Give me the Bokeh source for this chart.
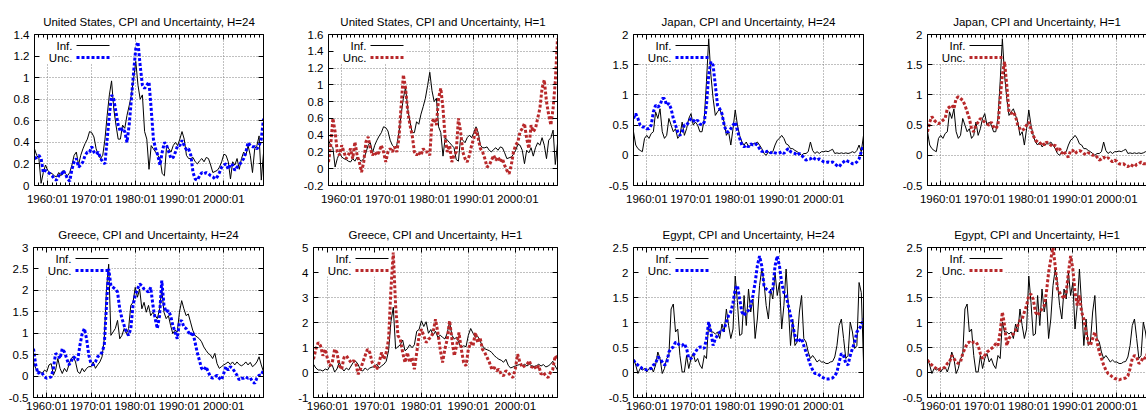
from bokeh.plotting import figure
from bokeh.layouts import column, row, Spacer
from bokeh.models import (Range1d, FixedTicker, LinearAxis, Grid, Label,
                          BoxAnnotation, PrintfTickFormatter)
from bokeh.embed import file_html
from bokeh.resources import INLINE

# ---------------- data (semi-annual readings, 1957:01 ... 2009:01) ----------------
dates = [1957.0 + 0.5 * i for i in range(105)]

x_major = [1960, 1970, 1980, 1990, 2000]
x_labels = ["1960:01", "1970:01", "1980:01", "1990:01", "2000:01"]
x_minor = list(range(1957, 2010))

us_inf = [0.34, 0.28, 0.25, 0.02, 0.12, 0.19, 0.14, 0.12, 0.11, 0.09,
          0.08, 0.12, 0.09, 0.14, 0.11, 0.09, 0.12, 0.19, 0.28, 0.31,
          0.19, 0.28, 0.34, 0.39, 0.43, 0.50, 0.49, 0.45, 0.34, 0.28,
          0.25, 0.28, 0.43, 0.65, 0.84, 0.97, 0.71, 0.56, 0.43, 0.43,
          0.56, 0.53, 0.65, 0.74, 0.84, 0.99, 1.15, 0.93, 0.80, 0.84,
          0.50, 0.43, 0.15, 0.37, 0.34, 0.31, 0.28, 0.25, 0.11, 0.09,
          0.37, 0.34, 0.31, 0.37, 0.40, 0.37, 0.43, 0.50, 0.43, 0.28,
          0.25, 0.25, 0.26, 0.22, 0.20, 0.23, 0.25, 0.22, 0.26, 0.25,
          0.19, 0.12, 0.13, 0.14, 0.17, 0.22, 0.29, 0.28, 0.22, 0.06,
          0.22, 0.19, 0.25, 0.15, 0.25, 0.31, 0.28, 0.37, 0.28, 0.12,
          0.34, 0.37, 0.46, 0.05, 0.30]

us_unc24 = [0.25, 0.26, 0.28, 0.25, 0.12, 0.14, 0.12, 0.11, 0.09, 0.06,
            0.05, 0.09, 0.09, 0.14, 0.11, 0.06, 0.04, 0.15, 0.22, 0.25,
            0.17, 0.19, 0.22, 0.28, 0.31, 0.31, 0.36, 0.31, 0.29, 0.31,
            0.25, 0.22, 0.20, 0.43, 0.65, 0.84, 0.80, 0.68, 0.56, 0.50,
            0.53, 0.50, 0.40, 0.56, 0.80, 1.05, 1.27, 1.33, 1.11, 0.93,
            0.90, 0.93, 0.96, 0.71, 0.43, 0.34, 0.28, 0.19, 0.31, 0.40,
            0.37, 0.31, 0.25, 0.26, 0.31, 0.37, 0.37, 0.42, 0.37, 0.33,
            0.34, 0.28, 0.12, 0.06, 0.05, 0.09, 0.12, 0.11, 0.12, 0.11,
            0.09, 0.08, 0.06, 0.08, 0.12, 0.17, 0.19, 0.20, 0.15, 0.20,
            0.19, 0.14, 0.17, 0.19, 0.22, 0.25, 0.31, 0.40, 0.37, 0.36,
            0.36, 0.34, 0.37, 0.43, 0.62]

us_unc1 = [0.08, 0.28, 0.60, 0.44, 0.20, 0.16, 0.28, 0.20, 0.12, 0.16,
           0.24, 0.12, 0.32, 0.16, 0.08, -0.04, 0.08, 0.32, 0.38, 0.24,
           0.16, 0.20, 0.16, 0.20, 0.28, 0.20, 0.08, 0.20, 0.24, 0.20,
           0.26, 0.20, 0.36, 0.76, 1.12, 0.96, 0.68, 0.52, 0.40, 0.20,
           0.16, 0.20, 0.16, 0.24, 0.20, 0.20, 0.16, 0.56, 0.60, 0.52,
           0.84, 0.96, 0.72, 0.36, 0.20, 0.28, 0.08, 0.16, 0.20, 0.60,
           0.44, 0.20, 0.12, 0.08, 0.16, 0.28, 0.36, 0.48, 0.36, 0.24,
           0.20, 0.12, 0.02, 0.04, 0.10, 0.16, 0.10, 0.14, 0.08, 0.12,
           0.04, -0.02, -0.06, 0.04, 0.20, 0.28, 0.32, 0.44, 0.48, 0.54,
           0.36, 0.24, 0.52, 0.44, 0.48, 0.60, 0.72, 0.96, 1.06, 0.80,
           0.64, 0.52, 0.72, 1.04, 1.55]

jp_inf = [0.39, 0.17, 0.11, 0.08, 0.06, 0.28, 0.33, 0.28, 0.36, 0.39,
          0.72, 0.61, 0.77, 0.39, 0.28, 0.33, 0.61, 0.50, 0.39, 0.44,
          0.28, 0.33, 0.55, 0.33, 0.44, 0.61, 0.69, 0.50, 0.55, 0.50,
          0.39, 0.39, 0.61, 1.22, 1.93, 1.33, 0.94, 0.66, 0.72, 0.77,
          0.66, 0.55, 0.33, 0.39, 0.17, 0.44, 0.75, 0.50, 0.33, 0.22,
          0.17, 0.22, 0.14, 0.17, 0.19, 0.19, 0.22, 0.17, 0.11, 0.03,
          0.00, 0.06, 0.03, 0.06, 0.17, 0.25, 0.28, 0.33, 0.28, 0.19,
          0.17, 0.11, 0.11, 0.08, 0.06, 0.03, 0.00, 0.03, 0.03, 0.06,
          0.22, 0.08, 0.03, 0.06, 0.03, 0.06, 0.06, 0.07, 0.06, 0.08,
          0.10, 0.03, 0.04, 0.03, 0.04, 0.03, 0.04, 0.03, 0.04, 0.06,
          0.04, 0.08, 0.17, 0.06, 0.33]

jp_unc24 = [0.61, 0.69, 0.61, 0.50, 0.47, 0.47, 0.44, 0.44, 0.50, 0.72,
            0.83, 0.80, 0.83, 0.94, 0.94, 0.83, 0.86, 0.77, 0.61, 0.50,
            0.39, 0.33, 0.39, 0.50, 0.50, 0.55, 0.61, 0.58, 0.55, 0.58,
            0.52, 0.50, 0.55, 0.83, 1.33, 1.55, 1.49, 1.16, 0.83, 0.77,
            0.69, 0.50, 0.39, 0.39, 0.44, 0.50, 0.55, 0.41, 0.28, 0.17,
            0.14, 0.17, 0.14, 0.19, 0.17, 0.19, 0.17, 0.11, 0.06, 0.08,
            0.06, 0.07, 0.04, 0.06, 0.04, 0.03, 0.04, 0.06, 0.03, 0.08,
            0.11, 0.06, 0.04, 0.03, 0.00, 0.03, 0.00, -0.04, -0.08, -0.06,
            -0.06, -0.03, -0.06, -0.08, -0.06, -0.08, -0.11, -0.12, -0.11, -0.12,
            -0.11, -0.14, -0.17, -0.19, -0.14, -0.11, -0.08, -0.10, -0.11, -0.14,
            -0.14, -0.11, -0.06, 0.06, 0.17]

jp_unc1 = [0.39, 0.55, 0.64, 0.58, 0.55, 0.52, 0.55, 0.58, 0.61, 0.77,
           0.80, 0.83, 0.77, 0.94, 0.97, 0.94, 0.91, 0.83, 0.72, 0.61,
           0.44, 0.39, 0.50, 0.55, 0.61, 0.58, 0.55, 0.52, 0.50, 0.55,
           0.47, 0.44, 0.50, 0.94, 1.33, 1.55, 1.16, 0.72, 0.69, 0.72,
           0.64, 0.50, 0.44, 0.41, 0.44, 0.50, 0.55, 0.44, 0.33, 0.25,
           0.22, 0.19, 0.22, 0.17, 0.22, 0.19, 0.17, 0.14, 0.17, 0.08,
           0.11, 0.03, 0.07, 0.00, -0.03, 0.08, 0.08, 0.03, 0.06, 0.08,
           0.06, 0.03, 0.01, 0.04, 0.03, 0.00, 0.01, -0.03, -0.08, -0.06,
           -0.03, -0.06, -0.04, -0.08, -0.11, -0.08, -0.10, -0.14, -0.15, -0.14,
           -0.17, -0.19, -0.15, -0.17, -0.19, -0.15, -0.14, -0.11, -0.14, -0.14,
           -0.14, -0.12, -0.08, 0.00, 0.10]

gr_inf = [0.33, 0.18, 0.10, 0.10, 0.06, 0.14, 0.10, 0.26, 0.29, 0.02,
          0.14, 0.41, 0.18, 0.06, 0.18, 0.10, 0.26, 0.41, 0.45, 0.33,
          0.10, 0.06, 0.18, 0.10, 0.18, 0.22, 0.22, 0.33, 0.18, 0.26,
          0.33, 0.45, 0.87, 2.03, 2.61, 0.95, 1.03, 1.11, 1.30, 0.87,
          0.95, 1.11, 0.99, 1.11, 1.65, 1.72, 2.07, 1.84, 2.03, 1.57,
          1.72, 1.49, 1.65, 1.41, 1.49, 1.41, 1.34, 1.57, 2.03, 1.49,
          1.34, 1.41, 1.18, 0.99, 1.07, 1.03, 1.49, 1.76, 1.57, 1.41,
          1.45, 1.26, 1.07, 0.95, 0.91, 0.87, 0.80, 0.68, 0.60, 0.53,
          0.49, 0.41, 0.53, 0.29, 0.18, 0.22, 0.26, 0.29, 0.33, 0.27,
          0.33, 0.26, 0.33, 0.27, 0.24, 0.27, 0.33, 0.26, 0.32, 0.22,
          0.26, 0.33, 0.45, 0.26, 0.10]

gr_unc24 = [0.64, 0.26, 0.06, 0.10, 0.06, -0.02, -0.05, -0.04, -0.02, 0.18,
            0.53, 0.49, 0.41, 0.64, 0.56, 0.41, 0.26, 0.33, 0.45, 0.41,
            0.37, 0.72, 0.99, 1.11, 0.87, 0.49, 0.29, 0.26, 0.33, 0.45,
            0.49, 0.56, 0.72, 1.65, 2.50, 2.11, 2.07, 2.03, 1.96, 1.57,
            1.34, 1.18, 1.03, 0.95, 1.11, 1.65, 1.88, 2.03, 2.15, 2.11,
            2.03, 1.99, 1.96, 2.07, 1.65, 1.34, 1.11, 1.41, 2.23, 1.65,
            1.49, 1.53, 1.41, 1.18, 1.03, 0.87, 1.26, 1.30, 1.14, 1.11,
            1.03, 0.95, 1.03, 0.80, 0.56, 0.37, 0.18, 0.14, 0.22, 0.10,
            -0.02, -0.05, -0.02, 0.02, -0.05, -0.09, 0.06, 0.22, 0.14, 0.22,
            0.18, 0.10, 0.02, -0.09, -0.05, -0.05, -0.02, -0.05, -0.04, -0.13,
            -0.17, -0.05, 0.02, 0.02, 0.14]

gr_unc1 = [0.53, 0.93, 1.20, 1.07, 0.67, 0.93, 0.53, 0.27, 0.40, 0.93,
           0.80, 0.27, 0.13, 0.60, 0.67, 0.53, 0.40, 0.47, 0.40, -0.07,
           0.13, 0.40, 0.67, 0.93, 0.80, 0.40, 0.27, 0.13, 0.40, 0.80,
           0.53, 0.80, 1.33, 3.33, 4.80, 2.67, 1.47, 1.33, 0.80, 0.40,
           0.80, 0.40, 0.60, 0.13, 0.80, 1.47, 1.73, 1.47, 1.20, 1.33,
           1.40, 1.60, 2.13, 1.60, 0.93, 0.40, 0.93, 1.33, 2.07, 1.33,
           0.67, 1.07, 1.60, 0.93, 0.40, 0.27, 0.93, 1.20, 1.07, 1.60,
           1.20, 1.40, 0.93, 0.80, 0.60, 0.40, 0.13, 0.20, 0.07, 0.13,
           -0.07, -0.13, 0.07, 0.00, -0.13, -0.20, 0.13, 0.73, 0.40, 0.20,
           0.27, 0.33, 0.47, 0.20, 0.27, 0.13, 0.27, -0.07, 0.00, -0.13,
           -0.20, 0.00, 0.13, 0.67, 0.53]

eg_inf = [0.28, 0.15, -0.02, 0.08, 0.05, 0.08, 0.01, 0.08, 0.11, 0.01,
          0.15, 0.41, 0.28, -0.02, 0.08, 0.28, 0.34, 1.27, 1.37, 0.81,
          0.87, 0.34, 0.01, 0.01, 0.34, 0.08, 0.28, 0.38, 0.21, 0.28,
          0.15, 0.08, 0.34, 0.28, 1.01, 0.81, 0.81, 0.77, 0.81, 0.68,
          0.97, 0.81, 1.27, 0.94, 0.68, 0.87, 1.93, 1.40, 0.74, 0.77,
          1.54, 0.94, 1.67, 1.21, 1.47, 0.68, 1.07, 1.74, 2.07, 1.80,
          1.34, 1.07, 1.67, 1.47, 2.00, 1.54, 1.80, 0.87, 1.34, 2.07,
          1.34, 0.54, 1.07, 0.54, 0.61, 1.21, 1.54, 0.68, 0.61, 0.41,
          0.28, 0.34, 0.28, 0.21, 0.25, 0.21, 0.21, 0.18, 0.18, 0.21,
          0.22, 0.31, 0.54, 0.94, 1.07, 0.68, 0.28, 0.34, 1.01, 0.81,
          0.48, 0.54, 1.80, 1.60, 0.21]

eg_unc24 = [0.25, 0.18, 0.15, 0.11, 0.08, 0.07, 0.05, 0.07, 0.08, 0.15,
            0.18, 0.31, 0.28, 0.21, 0.15, 0.18, 0.41, 0.48, 0.51, 0.61,
            0.58, 0.54, 0.54, 0.58, 0.48, 0.28, 0.28, 0.34, 0.41, 0.48,
            0.51, 0.51, 0.48, 0.68, 1.01, 0.81, 0.54, 0.68, 0.74, 0.81,
            0.81, 0.87, 1.01, 1.14, 1.21, 1.40, 1.67, 1.74, 1.47, 1.21,
            1.14, 1.21, 1.24, 1.34, 1.54, 1.80, 2.13, 2.33, 2.13, 1.74,
            1.67, 1.64, 1.60, 1.67, 2.13, 2.33, 2.13, 1.80, 1.60, 1.54,
            1.34, 1.14, 0.94, 0.74, 0.61, 0.64, 0.68, 0.54, 0.41, 0.28,
            0.15, 0.05, -0.02, -0.02, -0.05, -0.09, -0.11, -0.13, -0.13, -0.12,
            -0.11, -0.07, 0.01, 0.21, 0.38, 0.34, 0.18, 0.15, 0.34, 0.48,
            0.61, 0.81, 0.87, 0.94, 1.07]

eg_unc1 = [0.25, 0.18, 0.15, 0.11, 0.08, 0.05, 0.08, 0.08, 0.11, 0.18,
           0.21, 0.34, 0.28, 0.21, 0.18, 0.21, 0.38, 0.48, 0.58, 0.61,
           0.58, 0.61, 0.61, 0.54, 0.38, 0.28, 0.34, 0.41, 0.44, 0.48,
           0.51, 0.58, 0.54, 0.81, 1.21, 0.94, 0.54, 0.68, 0.74, 0.77,
           0.84, 0.94, 1.04, 1.07, 1.21, 1.34, 1.54, 1.57, 1.47, 1.21,
           1.14, 1.21, 1.27, 1.34, 1.60, 2.00, 2.27, 2.50, 2.13, 1.67,
           1.60, 1.54, 1.47, 1.60, 2.00, 2.33, 2.07, 1.60, 1.34, 1.54,
           1.21, 1.07, 0.81, 0.61, 0.54, 0.68, 0.81, 0.61, 0.41, 0.28,
           0.15, 0.05, -0.02, -0.05, -0.09, -0.12, -0.13, -0.15, -0.13, -0.12,
           -0.11, -0.07, 0.08, 0.28, 0.34, 0.31, 0.18, 0.21, 0.31, 0.28,
           0.40, 0.60, 0.80, 0.90, 1.00]

us24_yticks = [0, 0.2, 0.4, 0.6, 0.8, 1, 1.2, 1.4]
us1_yticks = [-0.2, 0, 0.2, 0.4, 0.6, 0.8, 1, 1.2, 1.4, 1.6]
jp_yticks = [-0.5, 0, 0.5, 1, 1.5, 2]
gr24_yticks = [-0.5, 0, 0.5, 1, 1.5, 2, 2.5, 3]
gr1_yticks = [-1, 0, 1, 2, 3, 4, 5]
eg_yticks = [-0.5, 0, 0.5, 1, 1.5, 2, 2.5]

# ---------------- styling ----------------
FONT = "Liberation Sans"
FS = "11.5px"
BLUE = "#0000ff"
RED = "#b8282a"
GRID = "#808080"
X0 = 1957.0
X1 = 2009.0
PX_PER_YEAR = 229.0 / (X1 - X0)


def make_panel(title, inf, unc, color, yticks, bl, fw, br, fh, bb,
               x_stand, mirror_right=True):
    ymin, ymax = yticks[0], yticks[-1]
    xmax = X0 + fw / PX_PER_YEAR if not mirror_right else X1
    p = figure(frame_width=fw, frame_height=fh, title=title,
               x_range=Range1d(X0, xmax), y_range=Range1d(ymin, ymax),
               x_axis_type=None, y_axis_type=None,
               output_backend="svg", toolbar_location=None,
               min_border_left=bl, min_border_right=br,
               min_border_top=0, min_border_bottom=bb,
               background_fill_color="white", border_fill_color="white")
    p.outline_line_color = None
    p.title.align = "center"
    p.title.text_font = FONT
    p.title.text_font_size = FS
    p.title.text_font_style = "normal"
    p.title.text_color = "black"
    p.title.standoff = 13
    if not mirror_right:
        p.title.offset = 5

    xt = FixedTicker(ticks=x_major, minor_ticks=x_minor)
    yt = FixedTicker(ticks=yticks, minor_ticks=[])

    def style(ax):
        ax.axis_line_color = "black"
        ax.axis_line_width = 1
        ax.major_tick_in = 5
        ax.major_tick_out = 0
        ax.minor_tick_in = 3
        ax.minor_tick_out = 0
        ax.major_tick_line_color = "black"
        ax.minor_tick_line_color = "black"
        ax.major_label_text_font = FONT
        ax.major_label_text_font_size = FS
        ax.major_label_text_color = "black"

    xb = LinearAxis(ticker=xt,
                    major_label_overrides={t: s for t, s in zip(x_major, x_labels)})
    style(xb)
    xb.major_label_standoff = x_stand
    p.add_layout(xb, "below")

    yl = LinearAxis(ticker=yt, formatter=PrintfTickFormatter(format="%g"))
    style(yl)
    yl.major_label_standoff = 5
    yl.minor_tick_line_color = None
    p.add_layout(yl, "left")

    xa = LinearAxis(ticker=xt,
                    major_label_overrides={t: "" for t in x_major})
    style(xa)
    xa.major_label_standoff = 0
    xa.major_label_text_font_size = "0px"
    p.add_layout(xa, "above")

    if mirror_right:
        yr = LinearAxis(ticker=yt,
                        major_label_overrides={t: "" for t in yticks})
        style(yr)
        yr.minor_tick_line_color = None
        yr.major_label_standoff = 0
        yr.major_label_text_font_size = "0px"
        p.add_layout(yr, "right")

    p.add_layout(Grid(dimension=0, ticker=xt, grid_line_color=GRID,
                      grid_line_dash="1 2", grid_line_width=1))
    p.add_layout(Grid(dimension=1, ticker=yt, grid_line_color=GRID,
                      grid_line_dash="1 2", grid_line_width=1))

    # helpers converting frame pixel offsets to data coordinates (legend only)
    def fx(px):
        return X0 + px * (xmax - X0) / fw

    def fy(py):
        return ymax - py * (ymax - ymin) / fh

    p.add_layout(BoxAnnotation(left=fx(1), right=fx(78), top=fy(3), bottom=fy(29),
                               fill_color="white", fill_alpha=1.0,
                               line_color=None, level="underlay"))

    p.line(dates, inf, line_color="black", line_width=1)
    p.line(dates, unc, line_color=color, line_width=3, line_dash="3 2")

    for i, (lab, col, lw, dash) in enumerate([("Inf.", "black", 1, "solid"),
                                               ("Unc.", color, 3, "3 2")]):
        yy = fy(11 + 12 * i)
        p.add_layout(Label(x=fx(38), y=yy, text=lab, text_align="right",
                           text_baseline="middle", text_font=FONT,
                           text_font_size=FS, text_color="black"))
        p.segment(x0=[fx(42)], y0=[yy], x1=[fx(75)], y1=[yy],
                  line_color=col, line_width=lw, line_dash=dash)
    return p


R1 = dict(fh=151, bb=21, x_stand=7)
R2 = dict(fh=150, bb=16, x_stand=2)

f1 = make_panel("United States, CPI and Uncertainty, H=24", us_inf, us_unc24, BLUE,
                us24_yticks, 34, 229, 27, **R1)
f2 = make_panel("United States, CPI and Uncertainty, H=1", us_inf, us_unc1, RED,
                us1_yticks, 38, 229, 23, **R1)
f3 = make_panel("Japan, CPI and Uncertainty, H=24", jp_inf, jp_unc24, BLUE,
                jp_yticks, 53, 230, 7, **R1)
f4 = make_panel("Japan, CPI and Uncertainty, H=1", jp_inf, jp_unc1, RED,
                jp_yticks, 57, 219, 0, mirror_right=False, **R1)
f5 = make_panel("Greece, CPI and Uncertainty, H=24", gr_inf, gr_unc24, BLUE,
                gr24_yticks, 33, 230, 27, **R2)
f6 = make_panel("Greece, CPI and Uncertainty, H=1", gr_inf, gr_unc1, RED,
                gr1_yticks, 23, 244, 23, **R2)
f7 = make_panel("Egypt, CPI and Uncertainty, H=24", eg_inf, eg_unc24, BLUE,
                eg_yticks, 53, 230, 7, **R2)
f8 = make_panel("Egypt, CPI and Uncertainty, H=1", eg_inf, eg_unc1, RED,
                eg_yticks, 57, 219, 0, mirror_right=False, **R2)

layout = column(Spacer(width=1146, height=7),
                row(f1, f2, f3, f4, spacing=0),
                Spacer(width=1146, height=13),
                row(f5, f6, f7, f8, spacing=0), spacing=0)

html = file_html(layout, INLINE)
html = html.replace("</head>", "<style>html,body{overflow:hidden;margin:0;}</style></head>", 1)
open("out.html", "w").write(html)
